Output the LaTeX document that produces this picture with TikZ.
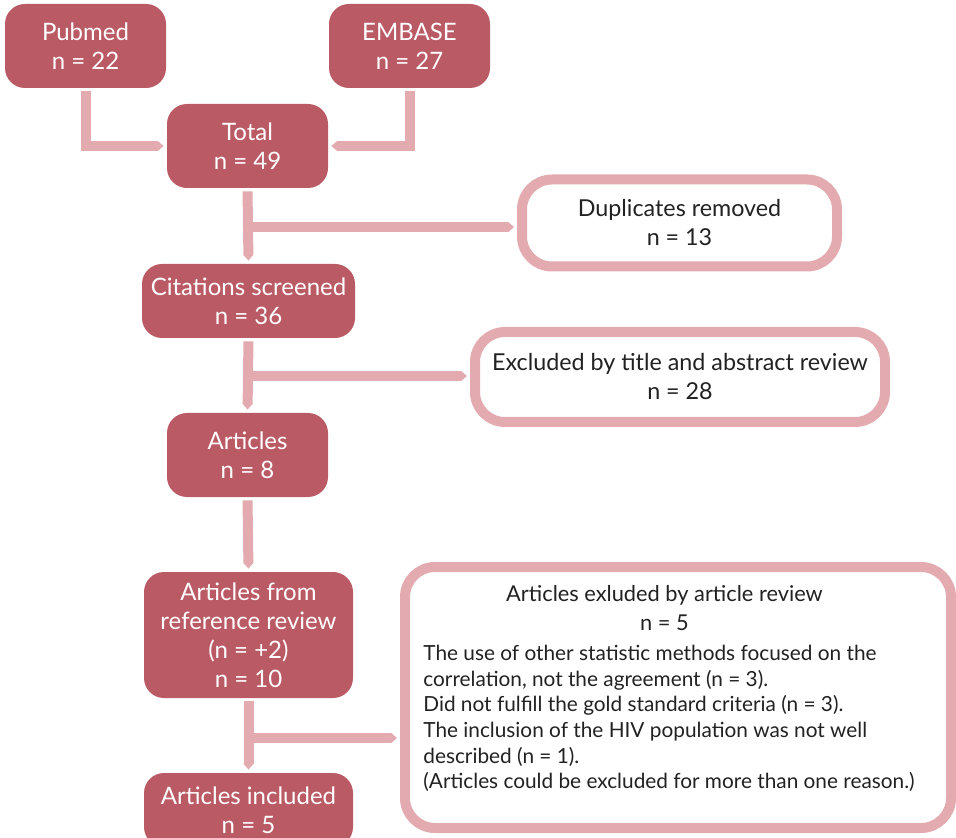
\documentclass[tikz,border=0pt]{standalone}
\usepackage{fontspec}
\setmainfont{Lato}
\usetikzlibrary{arrows.meta}
\definecolor{boxred}{HTML}{BA5A64}
\definecolor{linkpink}{HTML}{E3ABAF}
\definecolor{textgrey}{HTML}{222222}

\begin{document}
\begin{tikzpicture}[x=0.5pt,y=-0.5pt,
		box/.style={rectangle,rounded corners=10pt,fill=boxred,text=white,align=center,inner sep=1pt,
			font=\fontsize{12}{14.5}\selectfont},
		outbox/.style={rectangle,rounded corners=15pt,draw=linkpink,line width=5pt,fill=white,
			text=textgrey,align=center,inner sep=1pt,font=\fontsize{11.65}{14.5}\selectfont},
		link/.style={draw=linkpink,line width=5pt,shorten <=1.5pt,shorten >=1.5pt,
			-{Triangle[width=0pt 1,length=0pt 0.6]}}]
			\useasboundingbox (0,0) rectangle (956,838);
			% sources
			\node[box,minimum width=80.5pt,minimum height=42pt] (pubmed) at (85.5,46) {Pubmed\\n = 22};
			\node[box,minimum width=80.5pt,minimum height=42pt] (embase) at (409.5,46) {EMBASE\\n = 27};
			\node[box,minimum width=80.5pt,minimum height=42pt] (total) at (247.5,146) {Total\\n = 49};
			% main column
			\node[box,minimum width=106.5pt,minimum height=37pt] (screened) at (248.5,301) {Citations screened\\n = 36};
			\node[box,minimum width=80.5pt,minimum height=42pt] (articles) at (247.5,455) {Articles\\n = 8};
			\node[box,minimum width=104.5pt,minimum height=63pt] (refrev) at (248.5,635) {Articles from\\reference review\\(n = +2)\\n = 10};
			\node[box,minimum width=104.5pt,minimum height=37pt] (included) at (248.5,810) {Articles included\\n = 5};
			% exclusions
			\node[outbox,minimum width=157.5pt,minimum height=43.5pt] (dupl) at (679.5,223) {Duplicates removed\\n = 13};
			\node[outbox,minimum width=205pt,minimum height=45pt] (titleabs) at (680,377) {Excluded by title and abstract review\\n = 28};
			\node[outbox,minimum width=273pt,minimum height=130.5pt] (artexcl) at (678,697.5) {};
			\node[anchor=north,text=textgrey,inner sep=0pt,align=center,font=\fontsize{10.9}{14.5}\selectfont] (artexcltitle) at (664.5,585)
				{Articles exluded by article review\\n = 5};
			\node[anchor=north west,text=textgrey,inner sep=0pt,align=left,font=\fontsize{10.4}{12.8}\selectfont] (artexcllist) at (423,645)
				{The use of other statistic methods focused on the\\
				correlation, not the agreement (n = 3).\\
				Did not fulfill the gold standard criteria (n = 3).\\
				The inclusion of the HIV population was not well\\
				described (n = 1).\\
				(Articles could be excluded for more than one reason.)};
			% connectors
			\draw[link] (pubmed.south) |- (total.west);
			\draw[link] (embase.south) |- (total.east);
			\draw[link] (total.south) -- (screened.north);
			\draw[link] (screened.south) -- (articles.north);
			\draw[link] (articles.south) -- (refrev.north);
			\draw[link] (refrev.south) -- (included.north);
			\coordinate (split1) at (247.5,227);
			\coordinate (split2) at (248.5,376);
			\coordinate (split3) at (248.5,738);
			\draw[link,shorten <=0pt] (split1) -- (split1 -| dupl.west);
			\draw[link,shorten <=0pt] (split2) -- (split2 -| titleabs.west);
			\draw[link,shorten <=0pt] (split3) -- (split3 -| artexcl.west);
		\end{tikzpicture}
\end{document}
